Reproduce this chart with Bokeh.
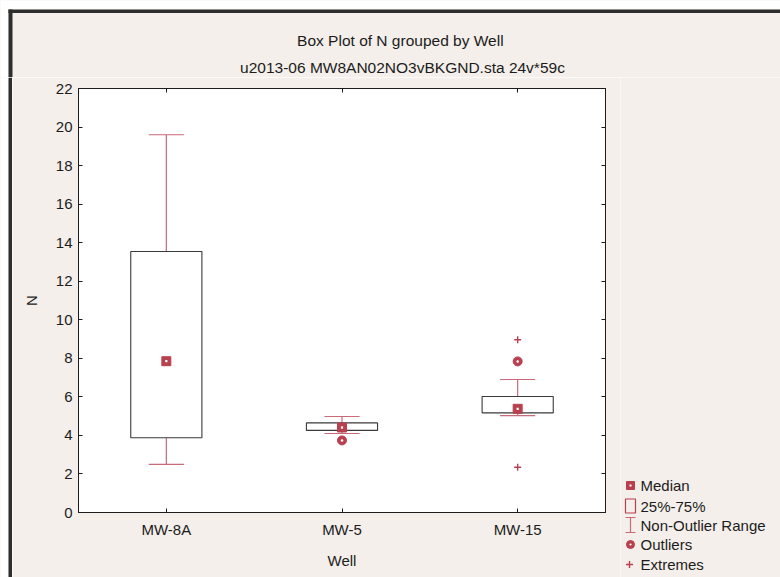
from bokeh.plotting import figure
from bokeh.layouts import column, row
from bokeh.models import (FactorRange, Range1d, CategoricalAxis, LinearAxis,
                          FixedTicker, CustomJSTickFormatter)
from bokeh.core.properties import value
from bokeh.embed import file_html
from bokeh.resources import INLINE

# ---- data -------------------------------------------------------------
wells = ["MW-8A", "MW-5", "MW-15"]
whisker_low = [2.50, 4.10, 5.03]
q1 = [3.88, 4.26, 5.17]
median = [7.85, 4.41, 5.38]
q3 = [13.54, 4.65, 6.02]
whisker_high = [19.60, 4.98, 6.90]
outlier_well = ["MW-5", "MW-15"]
outlier_val = [3.74, 7.84]
extreme_well = ["MW-15", "MW-15"]
extreme_val = [8.96, 2.35]
y_ticks = list(range(0, 23, 2))

title_text = "Box Plot of N grouped by  Well"
subtitle_text = "u2013-06 MW8AN02NO3vBKGND.sta 24v*59c"
legend_labels = ["Median", "25%-75%", "Non-Outlier Range", "Outliers", "Extremes"]

# ---- page geometry (pixels) -------------------------------------------
W, H = 780, 577
TOP_H = 77            # band holding the titles
STRIP_W = 12          # left page edge
LEG_W = 160           # legend column on the right
MAIN_W = W - STRIP_W - LEG_W
BODY_H = H - TOP_H
FL, FR, FT, FB = 78, 605, 88, 512   # plot frame on the page
Y_MAX = 22

FONT = "Liberation Sans"
INK = "#1c1c1c"
RED = "#b8404f"
WHISK = "#c86a78"
PAPER = "#f4efea"
RULE = "#2e2e2e"


def blank_fig(w, h, x0, x1, y_top, y_bot):
    """A bare canvas whose data units are page pixels (y grows downward)."""
    f = figure(width=w, height=h, x_range=Range1d(x0, x1),
               y_range=Range1d(y_bot, y_top), output_backend="svg",
               toolbar_location=None, min_border=0, frame_align=False)
    f.axis.visible = False
    f.grid.visible = False
    f.outline_line_color = None
    f.background_fill_color = PAPER
    f.border_fill_color = PAPER
    return f


# ---- title band -------------------------------------------------------
top = blank_fig(W, TOP_H, 0, W, 0, TOP_H)
top.quad(left=[0, 0], right=[W, 8], top=[0, 0], bottom=[9, TOP_H],
         fill_color="white", line_color=None)
top.quad(left=[8, 8], right=[W, 12], top=[9, 9], bottom=[12.5, TOP_H],
         fill_color=RULE, line_color=None)
top.text(x=[402, 402], y=[40, 67], text=[title_text, subtitle_text],
         text_align="center", text_baseline="middle",
         text_font=value(FONT), text_font_size="15.5px", text_color=INK)

# ---- left page edge ---------------------------------------------------
strip = blank_fig(STRIP_W, BODY_H, 0, STRIP_W, TOP_H, H)
strip.quad(left=[0], right=[8], top=[TOP_H], bottom=[H], fill_color="white", line_color=None)
strip.quad(left=[8], right=[12], top=[TOP_H], bottom=[H], fill_color=RULE, line_color=None)

# ---- main box plot ----------------------------------------------------
p = figure(width=MAIN_W, height=BODY_H,
           x_range=FactorRange(factors=wells, range_padding=0),
           y_range=Range1d(0, Y_MAX),
           output_backend="svg", toolbar_location=None, frame_align=False,
           min_border_left=FL - STRIP_W, min_border_right=STRIP_W + MAIN_W - FR,
           min_border_top=FT - TOP_H, min_border_bottom=H - FB)
p.background_fill_color = "white"
p.border_fill_color = PAPER
p.outline_line_color = INK
p.xgrid.visible = False
p.ygrid.visible = False

xa = p.xaxis[0]
xa.axis_label = "Well"
xa.major_label_standoff = 8
xa.axis_label_standoff = 11
ya = p.yaxis[0]
ya.ticker = FixedTicker(ticks=y_ticks)
ya.axis_label = "N"
ya.major_label_standoff = 6
ya.axis_label_standoff = 13
for ax in (xa, ya):
    ax.major_tick_in = 4
    ax.major_tick_out = 0
    ax.minor_tick_line_color = None
    ax.axis_line_color = INK
    ax.major_tick_line_color = INK
    ax.major_label_text_font = FONT
    ax.major_label_text_font_size = "15px"
    ax.major_label_text_color = INK
    ax.axis_label_text_font = FONT
    ax.axis_label_text_font_size = "15px"
    ax.axis_label_text_font_style = "normal"
    ax.axis_label_text_color = INK

# mirrored tick marks on the top and right edges, without labels
top_ax = CategoricalAxis(formatter=CustomJSTickFormatter(code="return ''"),
                         major_tick_in=4, major_tick_out=0, major_label_standoff=0,
                         axis_line_color=INK, major_tick_line_color=INK)
right_ax = LinearAxis(ticker=FixedTicker(ticks=y_ticks),
                      formatter=CustomJSTickFormatter(code="return ''"),
                      major_tick_in=4, major_tick_out=0, minor_tick_line_color=None,
                      major_label_standoff=0, axis_line_color=INK,
                      major_tick_line_color=INK)
p.add_layout(top_ax, "above")
p.add_layout(right_ax, "right")

xc = [i + 0.5 for i in range(len(wells))]
cap = 0.1
p.segment(x0=xc, y0=q3, x1=xc, y1=whisker_high, line_color=WHISK, line_width=1.2)
p.segment(x0=xc, y0=whisker_low, x1=xc, y1=q1, line_color=WHISK, line_width=1.2)
p.segment(x0=[x - cap for x in xc], y0=whisker_high, x1=[x + cap for x in xc],
          y1=whisker_high, line_color=WHISK, line_width=1.2)
p.segment(x0=[x - cap for x in xc], y0=whisker_low, x1=[x + cap for x in xc],
          y1=whisker_low, line_color=WHISK, line_width=1.2)
p.vbar(x=wells, bottom=q1, top=q3, width=0.405, fill_color="white",
       line_color="#3a3a3a", line_width=1.1)

p.scatter(x=wells, y=median, marker="square", size=9, fill_color=RED, line_color=RED)
p.scatter(x=wells, y=median, marker="square", size=2.2, fill_color="white", line_color=None)
p.scatter(x=outlier_well, y=outlier_val, marker="circle", size=9, fill_color=RED, line_color=RED)
p.scatter(x=outlier_well, y=outlier_val, marker="circle", size=2.5, fill_color="white", line_color=None)
p.scatter(x=extreme_well, y=extreme_val, marker="cross", size=7, line_color=RED, line_width=1.4)

# ---- legend column ----------------------------------------------------
leg = blank_fig(LEG_W, BODY_H, W - LEG_W, W, TOP_H, H)
row_y = [485, 505.5, 525, 544, 564]
mx = 630
leg.scatter(x=[mx], y=[row_y[0]], marker="square", size=8, fill_color=RED, line_color=RED)
leg.scatter(x=[mx], y=[row_y[0]], marker="square", size=2, fill_color="white", line_color=None)
leg.quad(left=[mx - 5], right=[mx + 5], top=[row_y[1] - 7], bottom=[row_y[1] + 7],
         fill_color=None, line_color=RED, line_width=1.2)
leg.segment(x0=[mx, mx - 5, mx - 5], x1=[mx, mx + 5, mx + 5],
            y0=[row_y[2] - 8, row_y[2] - 8, row_y[2] + 7],
            y1=[row_y[2] + 7, row_y[2] - 8, row_y[2] + 7],
            line_color=WHISK, line_width=1.2)
leg.scatter(x=[mx], y=[row_y[3]], marker="circle", size=8, fill_color=RED, line_color=RED)
leg.scatter(x=[mx], y=[row_y[3]], marker="circle", size=2.2, fill_color="white", line_color=None)
leg.scatter(x=[mx - 1], y=[row_y[4]], marker="cross", size=7, line_color=RED, line_width=1.4)
leg.text(x=[640] * len(legend_labels), y=row_y, text=legend_labels,
         text_align="left", text_baseline="middle", text_font=value(FONT),
         text_font_size="15px", text_color=INK)

page = column(top, row(strip, p, leg, spacing=0), spacing=0)
open("out.html", "w").write(file_html(page, INLINE))
